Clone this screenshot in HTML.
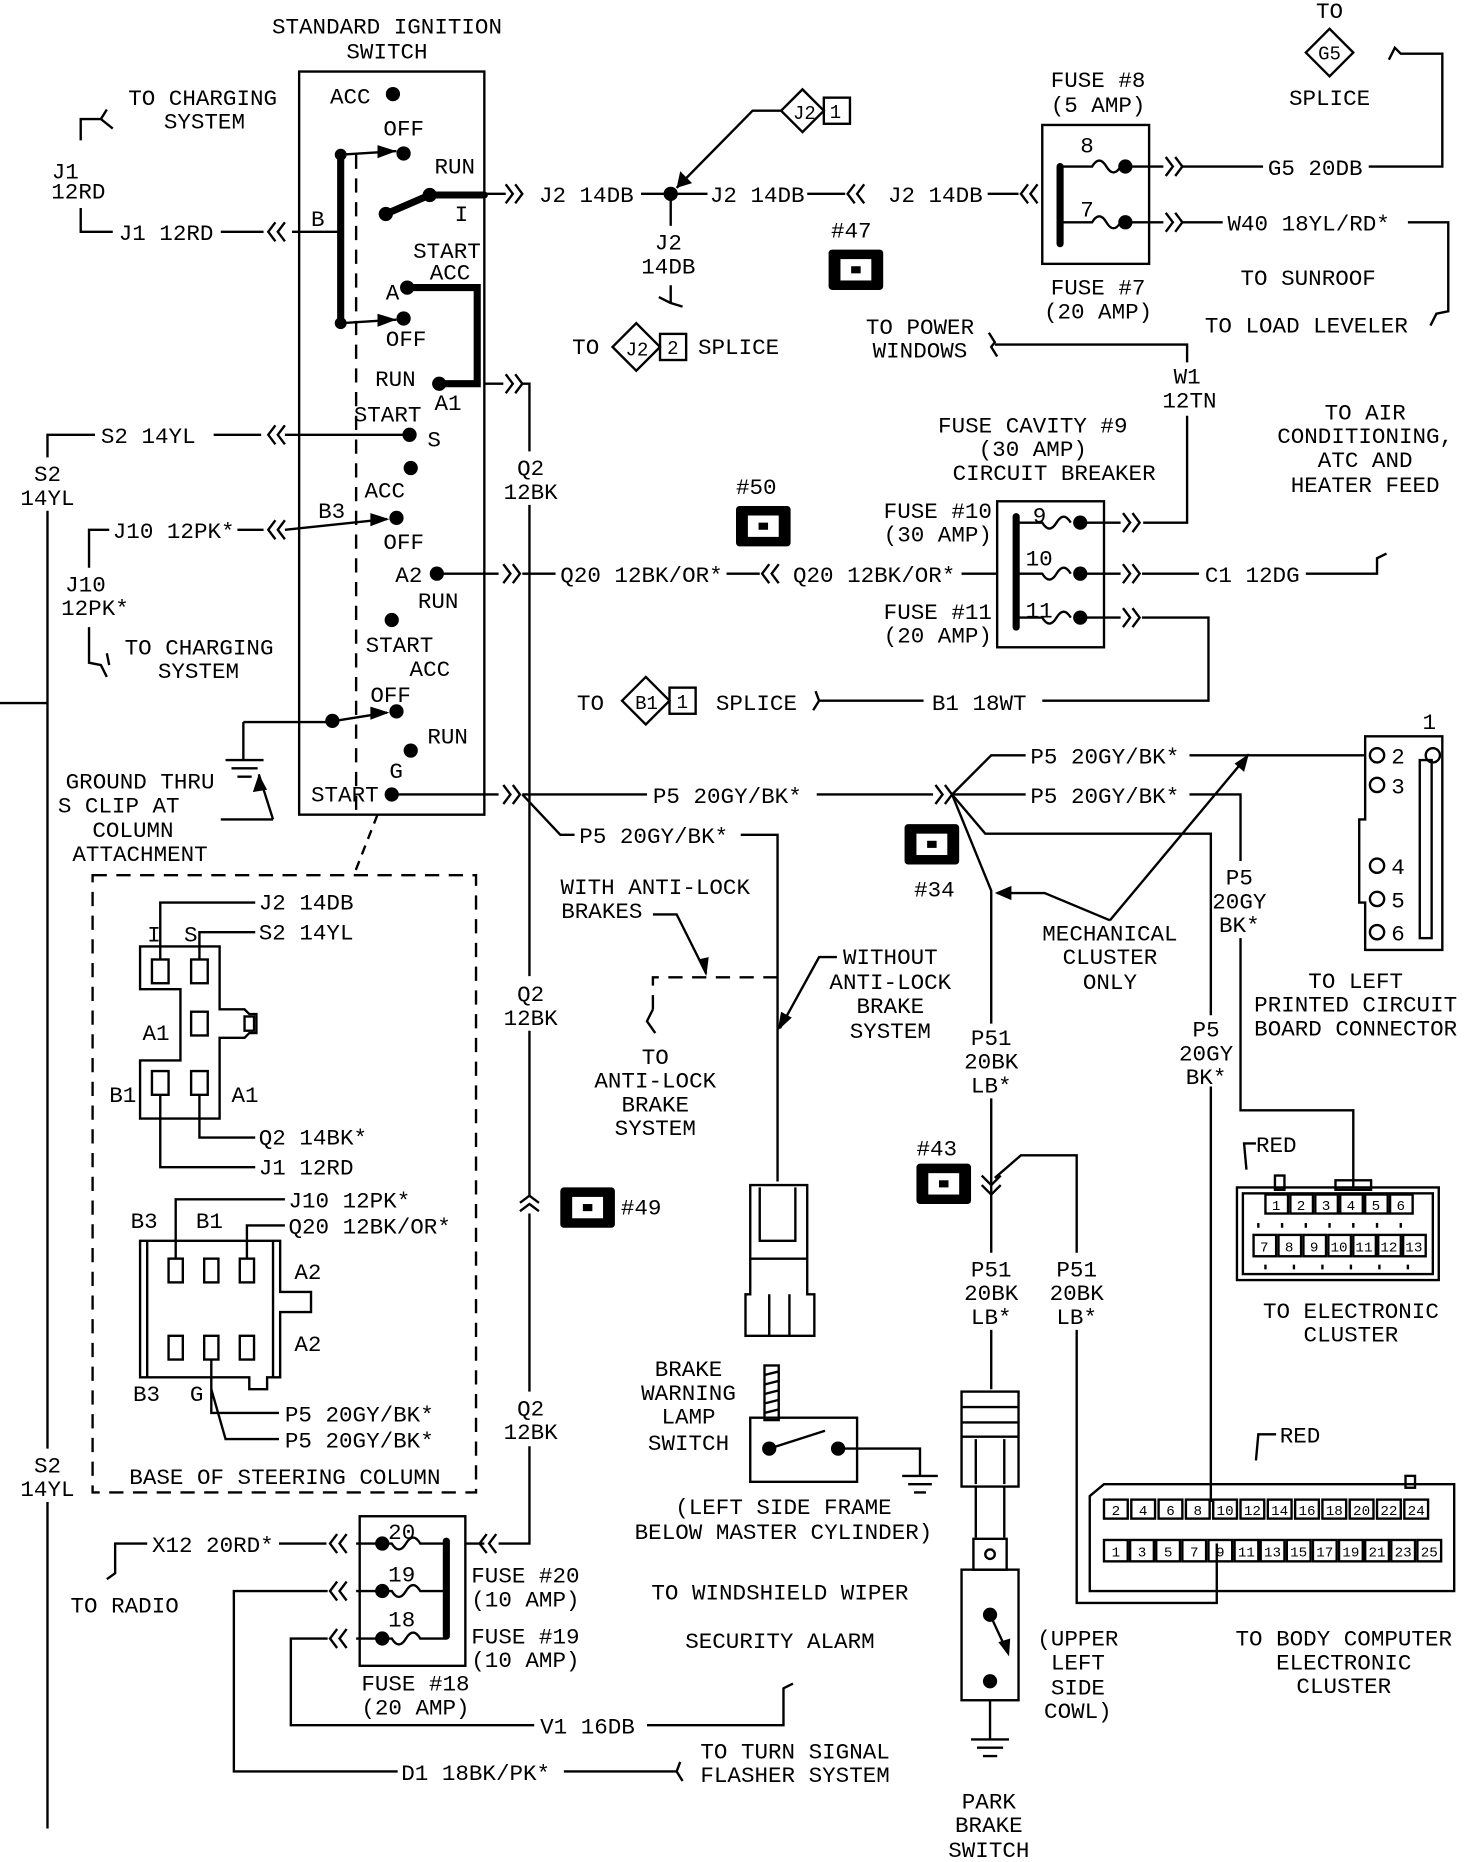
<!DOCTYPE html>
<html><head><meta charset="utf-8"><style>
html,body{margin:0;padding:0;background:#fff;}
svg{display:block;}
text{font-family:"Liberation Mono",monospace;font-size:19px;fill:#000;}
.c{text-anchor:middle;}
.s{font-size:12px;text-anchor:middle;}
.l{stroke:#000;stroke-width:2;fill:none;}
.k{stroke:#000;stroke-width:6;fill:none;stroke-linecap:round;}
.d{stroke:#000;stroke-width:2;fill:none;stroke-dasharray:12 8;}
</style></head><body>
<svg width="1472" height="1862" viewBox="0 0 1240 1568" xmlns="http://www.w3.org/2000/svg">
<!-- Ignition switch -->
<text x="326" y="28" class="c">STANDARD IGNITION</text>
<text x="326" y="49" class="c">SWITCH</text>
<rect x="252" y="60" width="156" height="626" class="l"/>
<line x1="300" y1="130" x2="300" y2="686" class="d"/>
<line x1="287" y1="130" x2="287" y2="272" class="k"/>
<circle cx="287" cy="130" r="5"/><circle cx="287" cy="272" r="5"/>
<text x="278" y="87">ACC</text><circle cx="331" cy="79" r="6"/>
<text x="323" y="114">OFF</text><circle cx="340" cy="129" r="6"/>
<path d="M287 130 L334 127" class="l"/><path d="M318 122 L334 127 L318 133Z"/>
<text x="366" y="146">RUN</text>
<path d="M325 180 L362 164 L408 164" class="k"/><circle cx="325" cy="180" r="6"/><circle cx="362" cy="164" r="6"/>
<text x="383" y="186">I</text>
<text x="348" y="217">START</text><text x="362" y="235">ACC</text>
<text x="325" y="252">A</text>
<path d="M343 242 L402 242 L402 323 L370 323" class="k"/><circle cx="343" cy="242" r="6"/><circle cx="370" cy="323" r="6"/>
<path d="M287 272 L334 269" class="l"/><path d="M318 264 L334 269 L318 275Z"/><circle cx="340" cy="268" r="6"/>
<text x="325" y="291">OFF</text>
<text x="316" y="325">RUN</text><text x="366" y="345">A1</text>
<text x="298" y="355">START</text>
<circle cx="345" cy="366" r="6"/><text x="360" y="376">S</text>
<circle cx="346" cy="394" r="6"/><text x="307" y="419">ACC</text>
<text x="268" y="436">B3</text>
<path d="M240 446 L326 437" class="l"/><path d="M312 432 L328 437 L312 443Z"/><circle cx="334" cy="436" r="6"/>
<text x="323" y="462">OFF</text>
<text x="333" y="490">A2</text><circle cx="368" cy="483" r="6"/>
<text x="352" y="512">RUN</text>
<circle cx="330" cy="522" r="6"/>
<text x="308" y="549">START</text><text x="345" y="569">ACC</text>
<text x="312" y="591">OFF</text>
<path d="M205 608 L276 608 L326 600" class="l"/><circle cx="280" cy="607" r="6"/><path d="M312 595 L328 600 L312 606Z"/><circle cx="334" cy="599" r="6"/>
<circle cx="346" cy="632" r="6"/><text x="360" y="626">RUN</text>
<text x="328" y="655">G</text>
<text x="262" y="675">START</text><circle cx="330" cy="669" r="6"/>

<!-- J1 -->
<text x="108" y="88">TO CHARGING</text><text x="138" y="108">SYSTEM</text>
<path d="M68 118 L68 100 L85 100 L90 92 M85 100 L95 108" class="l"/>
<text x="55" y="150" class="c">J1</text><text x="66" y="167" class="c">12RD</text>
<path d="M68 175 L68 195 L95 195" class="l"/>
<text x="100" y="202">J1 12RD</text>
<path d="M186 195 L222 195 M246 195 L287 195" class="l"/>
<path d="M232 187 l-6 8 l6 8 M240 187 l-6 8 l6 8" class="l"/>
<text x="262" y="190">B</text>

<!-- J2 top -->
<path d="M408 163 L426 163" class="l"/><path d="M426 155 l6 8 l-6 8 M434 155 l6 8 l-6 8" class="l"/>
<text x="454" y="170">J2 14DB</text>
<path d="M540 163 L596 163" class="l"/><circle cx="565" cy="163" r="6"/>
<text x="598" y="170">J2 14DB</text>
<path d="M680 163 L712 163" class="l"/><path d="M720 155 l-6 8 l6 8 M728 155 l-6 8 l6 8" class="l"/>
<text x="748" y="170">J2 14DB</text>
<path d="M832 163 L858 163" class="l"/><path d="M866 155 l-6 8 l6 8 M874 155 l-6 8 l6 8" class="l"/>
<path d="M658 93 L676 75 L694 93 L676 111Z" class="l"/><text x="668" y="100" style="font-size:16px">J2</text>
<rect x="694" y="82" width="22" height="22" class="l"/><text x="699" y="99" style="font-size:16px">1</text>
<path d="M658 93 L634 93 L570 158" class="l"/><path d="M570 158 L573 144 L583 154Z"/>
<path d="M565 163 L565 190" class="l"/>
<text x="563" y="210" class="c">J2</text><text x="563" y="230" class="c">14DB</text>
<path d="M565 240 L565 255 L575 258 M565 255 L555 250" class="l"/>
<text x="482" y="298">TO</text>
<path d="M516 292 L536 272 L556 292 L536 312Z" class="l"/><text x="527" y="299" style="font-size:16px">J2</text>
<rect x="556" y="281" width="22" height="22" class="l"/><text x="562" y="298" style="font-size:16px">2</text>
<text x="588" y="298">SPLICE</text>

<!-- connectors icons -->
<g><rect x="698" y="210" width="46" height="34" rx="3"/><rect x="708" y="218" width="26" height="18" fill="#fff"/><rect x="717" y="224" width="8" height="6"/><text x="700" y="200">#47</text></g>
<g><rect x="620" y="426" width="46" height="34" rx="3"/><rect x="630" y="434" width="26" height="18" fill="#fff"/><rect x="639" y="440" width="8" height="6"/><text x="620" y="416">#50</text></g>
<g><rect x="762" y="694" width="46" height="34" rx="3"/><rect x="772" y="702" width="26" height="18" fill="#fff"/><rect x="781" y="708" width="8" height="6"/><text x="770" y="755">#34</text></g>
<g><rect x="772" y="980" width="46" height="34" rx="3"/><rect x="782" y="988" width="26" height="18" fill="#fff"/><rect x="791" y="994" width="8" height="6"/><text x="772" y="973">#43</text></g>
<g><rect x="472" y="1000" width="46" height="34" rx="3"/><rect x="482" y="1008" width="26" height="18" fill="#fff"/><rect x="491" y="1014" width="8" height="6"/><text x="523" y="1023">#49</text></g>

<!-- fuse 7/8 -->
<text x="925" y="73" class="c">FUSE #8</text><text x="925" y="94" class="c">(5 AMP)</text>
<rect x="878" y="105" width="90" height="117" class="l"/>
<line x1="893" y1="140" x2="893" y2="205" class="k"/>
<text x="910" y="128">8</text><text x="910" y="182">7</text>
<path d="M893 140 L920 140 q6 -10 12 0 q6 10 12 0 M893 187 L920 187 q6 -10 12 0 q6 10 12 0" class="l"/>
<circle cx="948" cy="140" r="6"/><circle cx="948" cy="187" r="6"/>
<path d="M948 140 L980 140 M948 187 L980 187" class="l"/>
<path d="M982 132 l6 8 l-6 8 M990 132 l6 8 l-6 8 M982 179 l6 8 l-6 8 M990 179 l6 8 l-6 8" class="l"/>
<path d="M996 140 L1064 140" class="l"/><text x="1068" y="147">G5 20DB</text>
<path d="M1153 140 L1215 140 L1215 45 L1180 45 l-5 -5 l-5 10" class="l"/>
<text x="1120" y="15" class="c">TO</text>
<path d="M1100 44 L1120 24 L1140 44 L1120 64Z" class="l"/><text x="1120" y="50" class="c" style="font-size:16px">G5</text>
<text x="1120" y="88" class="c">SPLICE</text>
<path d="M996 187 L1030 187" class="l"/><text x="1034" y="194">W40 18YL/RD*</text>
<path d="M1186 187 L1220 187 L1220 262 L1210 264 l-5 10" class="l"/>
<text x="1045" y="240">TO SUNROOF</text>
<text x="1015" y="280">TO LOAD LEVELER</text>
<text x="925" y="248" class="c">FUSE #7</text><text x="925" y="268" class="c">(20 AMP)</text>

<!-- power windows -->
<text x="775" y="281" class="c">TO POWER</text><text x="775" y="301" class="c">WINDOWS</text>
<path d="M833 280 l5 8 l-3 4 l5 8 M838 290 L1000 290 L1000 305" class="l"/>
<text x="1000" y="323" class="c">W1</text><text x="1002" y="343" class="c">12TN</text>
<path d="M1000 350 L1000 440 L963 440" class="l"/>

<!-- fuse cavity 9 -->
<text x="870" y="364" class="c">FUSE CAVITY #9</text><text x="870" y="384" class="c">(30 AMP)</text>
<text x="888" y="404" class="c">CIRCUIT BREAKER</text>
<rect x="840" y="422" width="90" height="123" class="l"/>
<line x1="856" y1="435" x2="856" y2="528" class="k"/>
<text x="870" y="440">9</text><text x="864" y="476">10</text><text x="864" y="520">11</text>
<path d="M856 440 L878 440 q6 10 12 0 q6 -10 12 0 M856 483 L878 483 q6 10 12 0 q6 -10 12 0 M856 520 L878 520 q6 10 12 0 q6 -10 12 0" class="l"/>
<circle cx="910" cy="440" r="6"/><circle cx="910" cy="483" r="6"/><circle cx="910" cy="520" r="6"/>
<path d="M910 440 L944 440 M910 483 L944 483 M910 520 L944 520" class="l"/>
<path d="M946 432 l6 8 l-6 8 M954 432 l6 8 l-6 8 M946 475 l6 8 l-6 8 M954 475 l6 8 l-6 8 M946 512 l6 8 l-6 8 M954 512 l6 8 l-6 8" class="l"/>
<text x="790" y="436" class="c">FUSE #10</text><text x="790" y="456" class="c">(30 AMP)</text>
<text x="790" y="521" class="c">FUSE #11</text><text x="790" y="541" class="c">(20 AMP)</text>
<path d="M962 483 L1010 483" class="l"/><text x="1015" y="490">C1 12DG</text>
<path d="M1100 483 L1160 483 L1160 470 L1168 466" class="l"/>
<text x="1150" y="353" class="c">TO AIR</text><text x="1150" y="373" class="c">CONDITIONING,</text>
<text x="1150" y="393" class="c">ATC AND</text><text x="1150" y="414" class="c">HEATER FEED</text>
<path d="M962 520 L1018 520 L1018 590 L878 590" class="l"/><text x="785" y="598">B1 18WT</text>
<path d="M778 590 L690 590 l-3 -8 M690 590 l-5 8" class="l"/>
<text x="486" y="598">TO</text>
<path d="M524 590 L544 570 L564 590 L544 610Z" class="l"/><text x="535" y="597" style="font-size:16px">B1</text>
<rect x="564" y="579" width="22" height="22" class="l"/><text x="570" y="596" style="font-size:16px">1</text>
<text x="603" y="598">SPLICE</text>

<!-- Q2 line -->
<path d="M408 323 L424 323" class="l"/><path d="M426 315 l6 8 l-6 8 M434 315 l6 8 l-6 8" class="l"/>
<path d="M440 323 L446 323 L446 380 M446 425 L446 822 M446 868 L446 1008 M446 1022 L446 1172 M446 1218 L446 1300 L420 1300" class="l"/>
<path d="M438 1013 l8 -6 l8 6 M438 1020 l8 -6 l8 6" class="l"/>
<text x="447" y="400" class="c">Q2</text><text x="447" y="420" class="c">12BK</text>
<text x="447" y="843" class="c">Q2</text><text x="447" y="863" class="c">12BK</text>
<text x="447" y="1192" class="c">Q2</text><text x="447" y="1212" class="c">12BK</text>

<!-- S2 -->
<path d="M240 366 L345 366 M180 366 L220 366" class="l"/><path d="M232 358 l-6 8 l6 8 M240 358 l-6 8 l6 8" class="l"/>
<text x="85" y="373">S2 14YL</text>
<path d="M80 366 L40 366 L40 385 M40 430 L40 1220 M40 1265 L40 1540" class="l"/>
<text x="40" y="405" class="c">S2</text><text x="40" y="425" class="c">14YL</text>
<text x="40" y="1240" class="c">S2</text><text x="40" y="1260" class="c">14YL</text>
<path d="M0 592 L40 592" class="l"/>

<!-- J10 -->
<path d="M200 446 L222 446" class="l"/><path d="M232 438 l-6 8 l6 8 M240 438 l-6 8 l6 8" class="l"/>
<text x="95" y="453">J10 12PK*</text>
<path d="M92 446 L75 446 L75 478" class="l"/>
<text x="72" y="498" class="c">J10</text><text x="80" y="518" class="c">12PK*</text>
<path d="M75 528 L75 558 L85 560 l5 10 M90 550 L92 560" class="l"/>
<text x="105" y="551">TO CHARGING</text><text x="133" y="571">SYSTEM</text>

<!-- Q20 -->
<path d="M368 483 L420 483" class="l"/><path d="M424 475 l6 8 l-6 8 M432 475 l6 8 l-6 8" class="l"/>
<path d="M440 483 L468 483" class="l"/>
<text x="472" y="490">Q20 12BK/OR*</text>
<path d="M612 483 L640 483" class="l"/><path d="M648 475 l-6 8 l6 8 M656 475 l-6 8 l6 8" class="l"/>
<text x="668" y="490">Q20 12BK/OR*</text>
<path d="M810 483 L840 483" class="l"/>

<!-- ground -->
<path d="M205 608 L205 640 M190 640 L222 640 M195 647 L217 647 M200 654 L212 654" class="l"/>
<path d="M230 690 L218 652" class="l"/><path d="M218 652 L225 665 L213 667Z"/>
<path d="M186 690 L230 690" class="l"/>
<text x="118" y="664" class="c">GROUND THRU</text><text x="100" y="684" class="c">S CLIP AT</text>
<text x="112" y="705" class="c">COLUMN</text><text x="118" y="725" class="c">ATTACHMENT</text>
<path d="M318 686 L298 737" class="l" stroke-dasharray="8 6"/>

<!-- P5 -->
<path d="M330 669 L420 669" class="l"/><path d="M424 661 l6 8 l-6 8 M432 661 l6 8 l-6 8" class="l"/>
<path d="M440 669 L545 669" class="l"/><text x="550" y="676">P5 20GY/BK*</text>
<path d="M688 669 L786 669" class="l"/><path d="M788 661 l6 8 l-6 8 M796 661 l6 8 l-6 8" class="l"/>
<path d="M440 669 L472 703 L484 703" class="l"/><text x="488" y="710">P5 20GY/BK*</text>
<path d="M624 703 L655 703 L655 995" class="l"/>
<path d="M802 669 L835 636 L864 636" class="l"/><text x="868" y="643">P5 20GY/BK*</text>
<path d="M1002 636 L1150 636" class="l"/>
<path d="M802 669 L864 669" class="l"/><text x="868" y="676">P5 20GY/BK*</text>
<path d="M1002 669 L1045 669 L1045 725 M1045 790 L1045 935 L1140 935 L1140 1000" class="l"/>
<text x="1044" y="745" class="c">P5</text><text x="1044" y="765" class="c">20GY</text><text x="1044" y="785" class="c">BK*</text>
<path d="M802 669 L830 702 L1020 702 L1020 855 M1020 915 L1020 1265" class="l"/>
<text x="1016" y="873" class="c">P5</text><text x="1016" y="893" class="c">20GY</text><text x="1016" y="913" class="c">BK*</text>
<path d="M802 669 L835 750 L835 862 M835 925 L835 1055 M835 1120 L835 1170" class="l"/>
<text x="835" y="880" class="c">P51</text><text x="835" y="900" class="c">20BK</text><text x="835" y="920" class="c">LB*</text>
<path d="M827 990 l8 8 l8 -8 M827 998 l8 8 l8 -8" class="l"/>
<path d="M838 992 L860 973 L907 973 L907 1055 M907 1120 L907 1350 L1025 1350 L1025 1300" class="l"/>
<text x="835" y="1075" class="c">P51</text><text x="835" y="1095" class="c">20BK</text><text x="835" y="1115" class="c">LB*</text>
<text x="907" y="1075" class="c">P51</text><text x="907" y="1095" class="c">20BK</text><text x="907" y="1115" class="c">LB*</text>
<text x="935" y="792" class="c">MECHANICAL</text><text x="935" y="812" class="c">CLUSTER</text><text x="935" y="833" class="c">ONLY</text>
<path d="M935 775 L880 752 L840 752" class="l"/><path d="M838 752 L852 746 L852 758Z"/>
<path d="M935 775 L1052 635" class="l"/><path d="M1052 635 L1048 650 L1040 643Z"/>

<!-- left PCB connector -->
<path d="M1150 620 L1215 620 L1215 800 L1150 800 L1150 760 L1145 760 L1145 690 L1150 690Z" class="l"/>
<rect x="1196" y="640" width="10" height="150" class="l"/>
<text x="1204" y="614" class="c">1</text>
<circle cx="1160" cy="636" r="6" class="l"/><circle cx="1207" cy="636" r="6" class="l"/>
<text x="1172" y="643">2</text>
<circle cx="1160" cy="661" r="6" class="l"/><text x="1172" y="668">3</text>
<circle cx="1160" cy="729" r="6" class="l"/><text x="1172" y="736">4</text>
<circle cx="1160" cy="757" r="6" class="l"/><text x="1172" y="764">5</text>
<circle cx="1160" cy="785" r="6" class="l"/><text x="1172" y="792">6</text>
<text x="1142" y="832" class="c">TO LEFT</text><text x="1142" y="852" class="c">PRINTED CIRCUIT</text><text x="1142" y="872" class="c">BOARD CONNECTOR</text>

<!-- electronic cluster connector -->
<text x="1058" y="970">RED</text><path d="M1058 963 L1048 963 L1050 985" class="l"/>
<path d="M1042 1000 L1212 1000 L1212 1078 L1042 1078Z" class="l"/>
<rect x="1047" y="1005" width="160" height="68" class="l"/>
<rect x="1074" y="990" width="8" height="12" class="l"/><rect x="1125" y="994" width="30" height="8" class="l"/>
<g class="l">
<rect x="1066" y="1006" width="19" height="16"/><rect x="1087" y="1006" width="19" height="16"/><rect x="1108" y="1006" width="19" height="16"/><rect x="1129" y="1006" width="19" height="16"/><rect x="1150" y="1006" width="19" height="16"/><rect x="1171" y="1006" width="19" height="16"/>
<rect x="1056" y="1040" width="19" height="18"/><rect x="1077" y="1040" width="19" height="18"/><rect x="1098" y="1040" width="19" height="18"/><rect x="1119" y="1040" width="19" height="18"/><rect x="1140" y="1040" width="19" height="18"/><rect x="1161" y="1040" width="19" height="18"/><rect x="1182" y="1040" width="19" height="18"/>
</g>
<g>
<text x="1075" y="1019" class="s">1</text><text x="1096" y="1019" class="s">2</text><text x="1117" y="1019" class="s">3</text><text x="1138" y="1019" class="s">4</text><text x="1159" y="1019" class="s">5</text><text x="1180" y="1019" class="s">6</text>
<text x="1065" y="1054" class="s">7</text><text x="1086" y="1054" class="s">8</text><text x="1107" y="1054" class="s">9</text><text x="1128" y="1054" class="s">10</text><text x="1149" y="1054" class="s">11</text><text x="1170" y="1054" class="s">12</text><text x="1191" y="1054" class="s">13</text>
</g>
<path d="M1060 1030 L1060 1034 M1080 1030 L1080 1034 M1100 1030 L1100 1034 M1120 1030 L1120 1034 M1140 1030 L1140 1034 M1160 1030 L1160 1034 M1180 1030 L1180 1034 M1066 1065 L1066 1069 M1090 1065 L1090 1069 M1114 1065 L1114 1069 M1138 1065 L1138 1069 M1162 1065 L1162 1069 M1186 1065 L1186 1069" class="l"/>
<text x="1138" y="1110" class="c">TO ELECTRONIC</text><text x="1138" y="1130" class="c">CLUSTER</text>

<!-- body computer connector -->
<text x="1078" y="1215">RED</text><path d="M1075 1208 L1060 1208 L1058 1230" class="l"/>
<path d="M918 1260 L930 1250 L1225 1250 L1225 1340 L918 1340Z" class="l"/>
<rect x="1184" y="1243" width="8" height="10" class="l"/>
<g class="l">
<rect x="930" y="1263" width="20" height="16"/><rect x="953" y="1263" width="20" height="16"/><rect x="976" y="1263" width="20" height="16"/><rect x="999" y="1263" width="20" height="16"/><rect x="1022" y="1263" width="20" height="16"/><rect x="1045" y="1263" width="20" height="16"/><rect x="1068" y="1263" width="20" height="16"/><rect x="1091" y="1263" width="20" height="16"/><rect x="1114" y="1263" width="20" height="16"/><rect x="1137" y="1263" width="20" height="16"/><rect x="1160" y="1263" width="20" height="16"/><rect x="1183" y="1263" width="20" height="16"/>
<rect x="930" y="1297" width="20" height="18"/><rect x="952" y="1297" width="20" height="18"/><rect x="974" y="1297" width="20" height="18"/><rect x="996" y="1297" width="20" height="18"/><rect x="1018" y="1297" width="20" height="18"/><rect x="1040" y="1297" width="20" height="18"/><rect x="1062" y="1297" width="20" height="18"/><rect x="1084" y="1297" width="20" height="18"/><rect x="1106" y="1297" width="20" height="18"/><rect x="1128" y="1297" width="20" height="18"/><rect x="1150" y="1297" width="20" height="18"/><rect x="1172" y="1297" width="20" height="18"/><rect x="1194" y="1297" width="20" height="18"/>
</g>
<g>
<text x="940" y="1276" class="s">2</text><text x="963" y="1276" class="s">4</text><text x="986" y="1276" class="s">6</text><text x="1009" y="1276" class="s">8</text><text x="1032" y="1276" class="s">10</text><text x="1055" y="1276" class="s">12</text><text x="1078" y="1276" class="s">14</text><text x="1101" y="1276" class="s">16</text><text x="1124" y="1276" class="s">18</text><text x="1147" y="1276" class="s">20</text><text x="1170" y="1276" class="s">22</text><text x="1193" y="1276" class="s">24</text>
<text x="940" y="1311" class="s">1</text><text x="962" y="1311" class="s">3</text><text x="984" y="1311" class="s">5</text><text x="1006" y="1311" class="s">7</text><text x="1028" y="1311" class="s">9</text><text x="1050" y="1311" class="s">11</text><text x="1072" y="1311" class="s">13</text><text x="1094" y="1311" class="s">15</text><text x="1116" y="1311" class="s">17</text><text x="1138" y="1311" class="s">19</text><text x="1160" y="1311" class="s">21</text><text x="1182" y="1311" class="s">23</text><text x="1204" y="1311" class="s">25</text>
</g>
<text x="1132" y="1386" class="c">TO BODY COMPUTER</text><text x="1132" y="1406" class="c">ELECTRONIC</text><text x="1132" y="1426" class="c">CLUSTER</text>

<!-- anti-lock -->
<text x="552" y="753" class="c">WITH ANTI-LOCK</text><text x="507" y="773" class="c">BRAKES</text>
<path d="M550 770 L570 770 L595 820" class="l"/><path d="M595 822 L588 808 L597 806Z"/>
<path d="M550 850 L550 823 L655 823" class="d" stroke-dasharray="8 6"/>
<path d="M550 850 L545 860 L552 870" class="l"/>
<text x="552" y="896" class="c">TO</text><text x="552" y="916" class="c">ANTI-LOCK</text><text x="552" y="936" class="c">BRAKE</text><text x="552" y="956" class="c">SYSTEM</text>
<text x="750" y="812" class="c">WITHOUT</text><text x="750" y="833" class="c">ANTI-LOCK</text><text x="750" y="853" class="c">BRAKE</text><text x="750" y="874" class="c">SYSTEM</text>
<path d="M705 806 L690 806 L657 866" class="l"/><path d="M655 868 L658 852 L667 857Z"/>
<path d="M632 998 L680 998 L680 1090 L686 1090 L686 1125 L628 1125 L628 1090 L632 1090Z" class="l"/>
<path d="M640 1000 L640 1045 L670 1045 L670 1000 M648 1090 L648 1125 M665 1090 L665 1125 M632 1060 L680 1060" class="l"/>

<!-- brake warning lamp switch -->
<text x="580" y="1159" class="c">BRAKE</text><text x="580" y="1179" class="c">WARNING</text><text x="580" y="1199" class="c">LAMP</text><text x="580" y="1221" class="c">SWITCH</text>
<rect x="632" y="1194" width="90" height="54" class="l"/>
<rect x="644" y="1150" width="12" height="46" class="l"/>
<path d="M644 1158 L656 1155 M644 1166 L656 1163 M644 1174 L656 1171 M644 1182 L656 1179 M644 1190 L656 1187" class="l"/>
<circle cx="648" cy="1220" r="6"/><circle cx="706" cy="1220" r="6"/><path d="M648 1220 L695 1205" class="l"/>
<path d="M706 1220 L775 1220 L775 1243 M760 1243 L790 1243 M765 1250 L785 1250 M770 1257 L780 1257" class="l"/>
<text x="660" y="1275" class="c">(LEFT SIDE FRAME</text><text x="660" y="1296" class="c">BELOW MASTER CYLINDER)</text>
<text x="657" y="1347" class="c">TO WINDSHIELD WIPER</text>
<text x="657" y="1388" class="c">SECURITY ALARM</text>

<!-- park brake switch -->
<rect x="810" y="1172" width="48" height="80" class="l"/>
<path d="M810 1185 L858 1185 M810 1198 L858 1198 M810 1210 L858 1210 M822 1212 L822 1250 M846 1212 L846 1250" class="l"/>
<path d="M822 1252 L822 1295 M846 1252 L846 1295" class="l"/>
<path d="M820 1296 L848 1296 L848 1322 L820 1322Z" class="l"/><circle cx="834" cy="1309" r="4" class="l"/>
<rect x="810" y="1322" width="48" height="110" class="l"/>
<circle cx="834" cy="1360" r="6"/><circle cx="834" cy="1416" r="6"/><path d="M834 1360 L848 1390" class="l"/><path d="M850 1395 L841 1383 L851 1380Z"/>
<path d="M834 1432 L834 1465 M818 1465 L850 1465 M823 1472 L845 1472 M828 1479 L840 1479" class="l"/>
<text x="833" y="1523" class="c">PARK</text><text x="833" y="1543" class="c">BRAKE</text><text x="833" y="1564" class="c">SWITCH</text>
<text x="908" y="1386" class="c">(UPPER</text><text x="908" y="1406" class="c">LEFT</text><text x="908" y="1427" class="c">SIDE</text><text x="908" y="1447" class="c">COWL)</text>

<!-- bottom fuse block -->
<rect x="303" y="1277" width="89" height="126" class="l"/>
<line x1="376" y1="1298" x2="376" y2="1378" class="k"/>
<text x="327" y="1296">20</text><text x="327" y="1332">19</text><text x="327" y="1370">18</text>
<circle cx="322" cy="1300" r="6"/><circle cx="322" cy="1340" r="6"/><circle cx="322" cy="1380" r="6"/>
<path d="M322 1300 L330 1300 q6 10 12 0 q6 -10 12 0 L376 1300 M322 1340 L330 1340 q6 10 12 0 q6 -10 12 0 L376 1340 M322 1380 L330 1380 q6 10 12 0 q6 -10 12 0 L376 1380" class="l"/>
<path d="M322 1300 L300 1300 M322 1340 L300 1340 M322 1380 L300 1380" class="l"/>
<path d="M284 1292 l-6 8 l6 8 M292 1292 l-6 8 l6 8 M284 1332 l-6 8 l6 8 M292 1332 l-6 8 l6 8 M284 1372 l-6 8 l6 8 M292 1372 l-6 8 l6 8" class="l"/>
<path d="M408 1300 L392 1300" class="l"/><path d="M410 1292 l-6 8 l6 8 M418 1292 l-6 8 l6 8" class="l"/>
<text x="397" y="1333">FUSE #20</text><text x="397" y="1353">(10 AMP)</text>
<text x="397" y="1384">FUSE #19</text><text x="397" y="1404">(10 AMP)</text>
<text x="350" y="1424" class="c">FUSE #18</text><text x="350" y="1444" class="c">(20 AMP)</text>
<path d="M275 1300 L235 1300" class="l"/><text x="128" y="1307">X12 20RD*</text>
<path d="M124 1300 L97 1300 L97 1325 L90 1330" class="l"/>
<text x="105" y="1358" class="c">TO RADIO</text>
<path d="M276 1340 L197 1340 L197 1492 L335 1492" class="l"/>
<path d="M276 1380 L245 1380 L245 1453 L450 1453" class="l"/>
<text x="455" y="1460">V1 16DB</text>
<path d="M545 1453 L660 1453 L660 1422 L668 1418" class="l"/>
<text x="338" y="1499">D1 18BK/PK*</text>
<path d="M475 1492 L570 1492 l3 -8 M570 1492 l5 8" class="l"/>
<text x="590" y="1481">TO TURN SIGNAL</text><text x="590" y="1501">FLASHER SYSTEM</text>

<!-- base of steering column -->
<rect x="78" y="737" width="323" height="520" class="d" stroke-dasharray="12 8"/>
<text x="240" y="1250" class="c">BASE OF STEERING COLUMN</text>
<!-- upper connector -->
<path d="M118 797 L185 797 L185 850 L206 850 L210 854 L216 854 L216 870 L210 870 L206 874 L185 874 L185 942 L118 942 L118 893 L152 893 L152 833 L118 833 Z" class="l"/>
<g class="l">
<rect x="128" y="808" width="14" height="20"/><rect x="161" y="808" width="14" height="20"/>
<rect x="161" y="852" width="14" height="20"/>
<rect x="128" y="902" width="14" height="20"/><rect x="161" y="902" width="14" height="20"/>
<rect x="206" y="856" width="8" height="12"/>
</g>
<text x="124" y="793">I</text><text x="155" y="793">S</text>
<path d="M135 808 L135 760 L215 760" class="l"/><text x="218" y="766">J2 14DB</text>
<path d="M168 808 L168 785 L215 785" class="l"/><text x="218" y="791">S2 14YL</text>
<text x="120" y="876">A1</text><text x="92" y="928">B1</text><text x="195" y="928">A1</text>
<path d="M168 922 L168 958 L215 958 M135 922 L135 983 L215 983" class="l"/>
<text x="218" y="964">Q2 14BK*</text><text x="218" y="989">J1 12RD</text>
<!-- lower connector -->
<path d="M118 1045 L236 1045 L236 1088 L262 1088 L262 1105 L236 1105 L236 1160 L225 1160 L225 1170 L210 1170 L210 1160 L118 1160Z" class="l"/>
<path d="M124 1045 L124 1160 M230 1045 L230 1160" class="l"/>
<g class="l"><rect x="142" y="1060" width="12" height="20"/><rect x="172" y="1060" width="12" height="20"/><rect x="202" y="1060" width="12" height="20"/><rect x="142" y="1125" width="12" height="20"/><rect x="172" y="1125" width="12" height="20"/><rect x="202" y="1125" width="12" height="20"/></g>
<path d="M148 1060 L148 1010 L240 1010 M208 1060 L208 1032 L240 1032" class="l"/>
<text x="243" y="1017">J10 12PK*</text><text x="243" y="1039">Q20 12BK/OR*</text>
<text x="110" y="1034">B3</text><text x="165" y="1034">B1</text>
<text x="248" y="1077">A2</text><text x="248" y="1138">A2</text>
<text x="112" y="1180">B3</text><text x="160" y="1180">G</text>
<path d="M178 1145 L178 1190 L235 1190 M178 1170 L190 1212 L235 1212" class="l"/>
<text x="240" y="1197">P5 20GY/BK*</text><text x="240" y="1219">P5 20GY/BK*</text>
</svg>
</body></html>
